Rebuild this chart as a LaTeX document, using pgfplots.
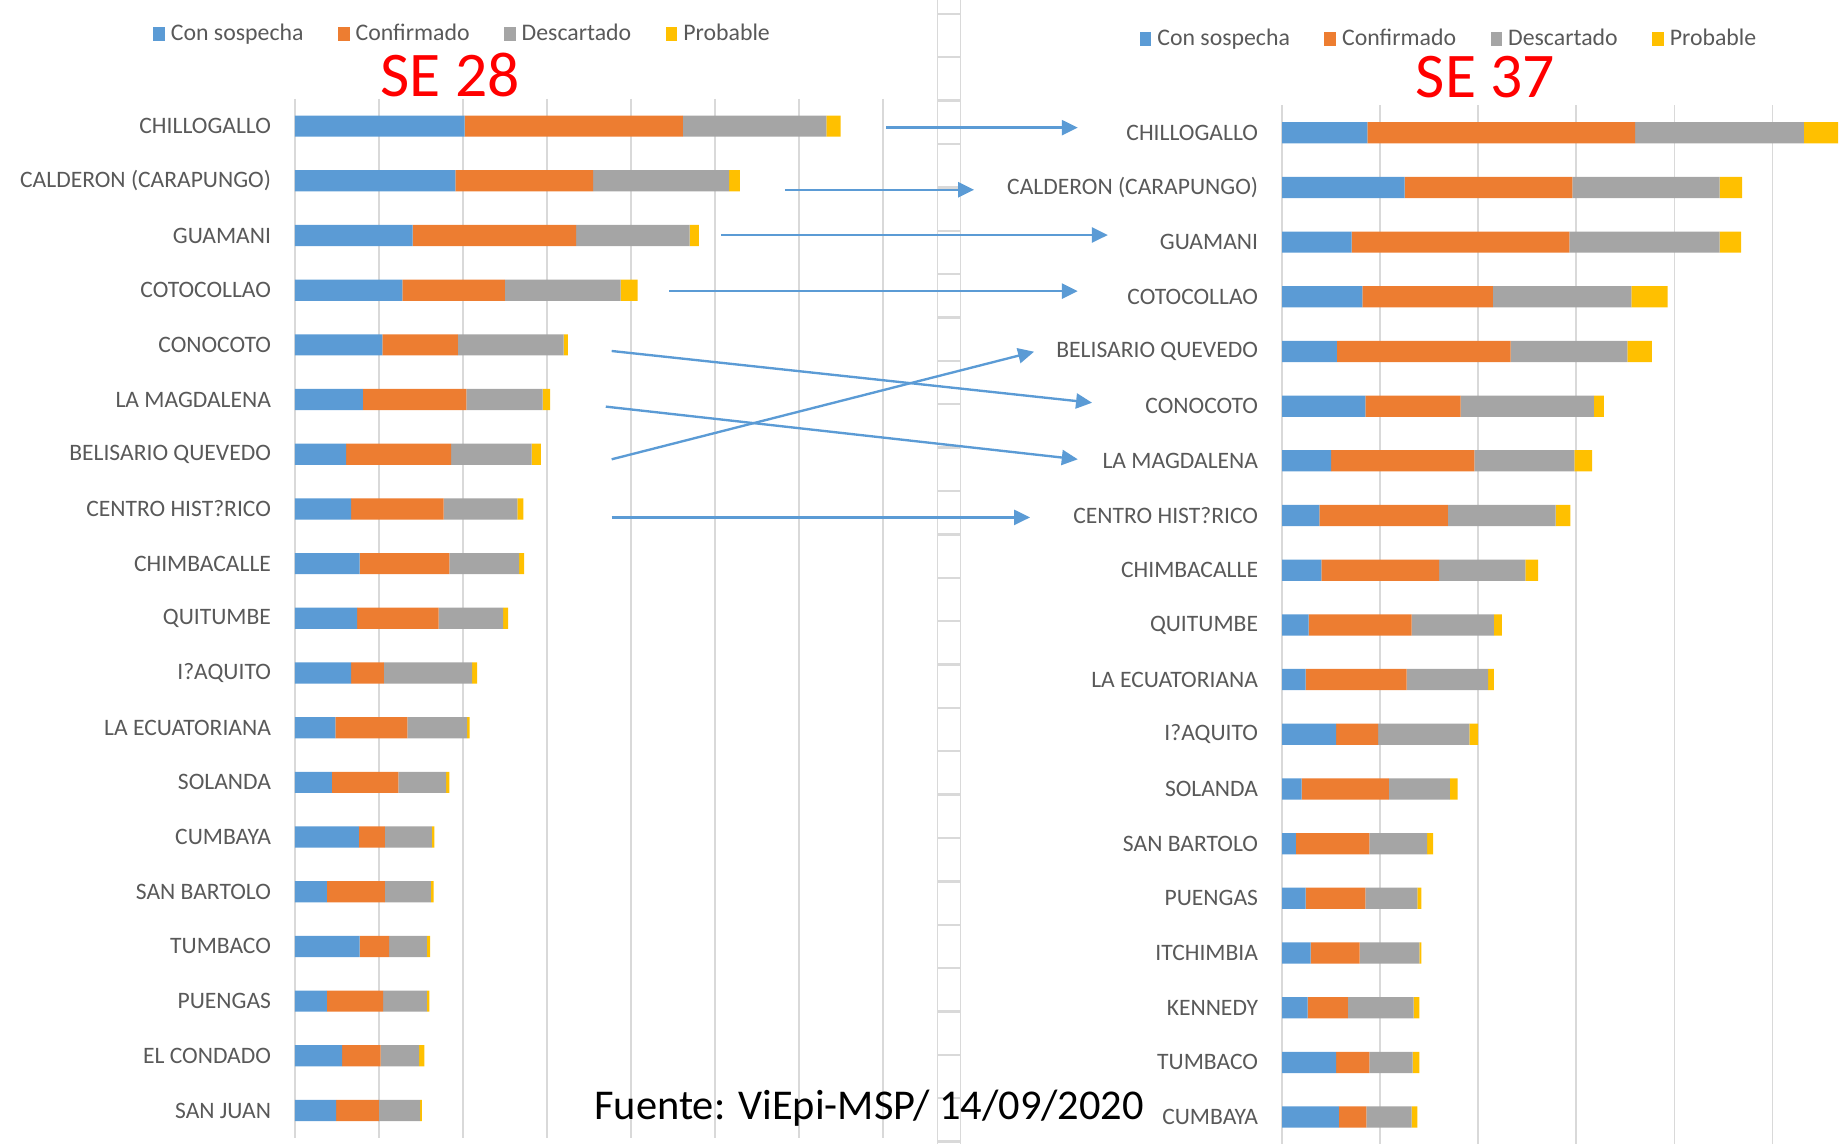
\documentclass[border=0pt]{standalone}
\usepackage{fontspec}
\setmainfont{Carlito}
\usepackage{pgfplots}
\usepackage{pgfplotstable}
\pgfplotsset{compat=1.18}
\usetikzlibrary{arrows.meta}
\definecolor{cblue}{HTML}{5B9BD5}
\definecolor{corange}{HTML}{ED7D31}
\definecolor{cgray}{HTML}{A5A5A5}
\definecolor{cyellow}{HTML}{FFC000}
\definecolor{gridgray}{HTML}{D9D9D9}
\definecolor{txtgray}{HTML}{595959}

% SE 28
\pgfplotstableread{
y sos conf desc prob
0 202 260 171 17
1 191 164 162 13
2 140 195 135 11
3 128 122 138 20
4 104 90 126 5
5 81 123 91 9
6 61 125 96 11
7 67 110 88 7
8 77 107 83 6
9 74 97 77 6
10 67 39 105 6
11 48 86 71 3
12 44 79 57 4
13 76 31 56 3
14 38 69 55 3
15 77 35 45 4
16 38 67 52 3
17 56 46 46 6
18 49 51 49 2
}\seA

% SE 37
\pgfplotstableread{
y sos conf desc prob
0 87 273 172 35
1 125 171 150 23
2 71 222 153 22
3 82 133 141 37
4 56 177 119 25
5 85 97 136 10
6 50 146 102 18
7 38 131 110 15
8 40 120 88 13
9 27 105 84 8
10 24 103 83 6
11 55 43 93 9
12 20 89 62 8
13 14 75 59 6
14 24 61 53 4
15 29 50 61 2
16 26 41 67 6
17 55 34 44 7
18 58 28 46 6
}\seB

\pgfplotsset{
  chartbase/.style={
    xbar stacked, scale only axis, bar width=9pt,
    xmin=0, ymin=-0.5, ymax=18.5, y dir=reverse, height=440.8pt,
    axis line style={draw=none}, major tick length=0pt,
    xmajorgrids, grid style={gridgray, line width=0.75pt},
    xticklabels={}, ytick={0,...,18},
    yticklabel style={font=\fontsize{10}{12}\selectfont, text=txtgray, inner sep=0pt, xshift=-10pt},
    legend image code/.code={\fill[##1] (0pt,-3pt) rectangle (5pt,3pt);},
    legend style={draw=none, fill=none, inner sep=0pt, outer sep=0pt, anchor=west,
      legend columns=4, font=\fontsize{10.1}{12}\selectfont, text=txtgray,
      nodes={inner sep=0pt},
      /tikz/every odd column/.style={column sep=2.5pt},
      /tikz/every even column/.style={column sep=14.6pt}},
  }
}

\begin{document}
\begin{tikzpicture}
\path[use as bounding box] (0pt,0pt) rectangle (784pt,-485.5pt);
% column divider
\draw[gridgray, line width=0.75pt] (397.75pt,0pt) -- (397.75pt,-485.5pt);
\draw[gridgray, line width=0.75pt] (407.5pt,0pt) -- (407.5pt,-485.5pt);
\foreach \k in {-2,...,24}{
  \draw[gridgray, line width=1pt] (397.75pt,{-42.7pt-18.4pt*\k}) -- (407.5pt,{-42.7pt-18.4pt*\k});
}

\begin{axis}[chartbase, at={(125.15pt,-482.7pt)}, anchor=south west,
  width=249.3pt, xmax=700, xtick={0,100,...,700},
  yticklabels={CHILLOGALLO, CALDERON (CARAPUNGO), GUAMANI, COTOCOLLAO, CONOCOTO, LA MAGDALENA, BELISARIO QUEVEDO, CENTRO HIST?RICO, CHIMBACALLE, QUITUMBE, I?AQUITO, LA ECUATORIANA, SOLANDA, CUMBAYA, SAN BARTOLO, TUMBACO, PUENGAS, EL CONDADO, SAN JUAN},
  legend style={at={(axis description cs:-0.2413,1.0622)}}]
\addplot[fill=cblue, draw=none] table[x=sos,y=y]{\seA};
\addplot[fill=corange, draw=none] table[x=conf,y=y]{\seA};
\addplot[fill=cgray, draw=none] table[x=desc,y=y]{\seA};
\addplot[fill=cyellow, draw=none] table[x=prob,y=y]{\seA};
\legend{Con sospecha, Confirmado, Descartado, Probable}
\end{axis}

\begin{axis}[chartbase, at={(543.9pt,-485.5pt)}, anchor=south west,
  width=240.1pt, xmax=577, xtick={0,100,...,500},
  yticklabels={CHILLOGALLO, CALDERON (CARAPUNGO), GUAMANI, COTOCOLLAO, BELISARIO QUEVEDO, CONOCOTO, LA MAGDALENA, CENTRO HIST?RICO, CHIMBACALLE, QUITUMBE, LA ECUATORIANA, I?AQUITO, SOLANDA, SAN BARTOLO, PUENGAS, ITCHIMBIA, KENNEDY, TUMBACO, CUMBAYA},
  legend style={at={(axis description cs:-0.2516,1.0640)}}]
\addplot[fill=cblue, draw=none] table[x=sos,y=y]{\seB};
\addplot[fill=corange, draw=none] table[x=conf,y=y]{\seB};
\addplot[fill=cgray, draw=none] table[x=desc,y=y]{\seB};
\addplot[fill=cyellow, draw=none] table[x=prob,y=y]{\seB};
\legend{Con sospecha, Confirmado, Descartado, Probable}
\end{axis}

% arrows
\begin{scope}[cblue, line width=1pt, -{Triangle[length=6.8pt,width=6.4pt]}]
\draw (376pt,-54.15pt) -- (457.25pt,-54.15pt);
\draw (333pt,-80.5pt) -- (413.25pt,-80.5pt);
\draw (306pt,-99.7pt) -- (470pt,-99.7pt);
\draw (284pt,-123.5pt) -- (457.25pt,-123.5pt);
\draw (259.5pt,-148.9pt) -- (463.3pt,-170.85pt);
\draw (257pt,-172.5pt) -- (457.25pt,-194.85pt);
\draw (259.5pt,-194.85pt) -- (438.7pt,-149.2pt);
\draw (259.5pt,-219.5pt) -- (437pt,-219.5pt);
\end{scope}

% titles
\node[text=red, font=\fontsize{27}{32}\selectfont, inner sep=0pt] at (191pt,-31.75pt) {SE 28};
\node[text=red, font=\fontsize{27}{32}\selectfont, inner sep=0pt] at (630.25pt,-32.5pt) {SE 37};
\node[anchor=base west, inner sep=0pt, font=\fontsize{18}{22}\selectfont] at (252pt,-475pt) {Fuente: ViEpi-MSP/ 14/09/2020};
\end{tikzpicture}
\end{document}
